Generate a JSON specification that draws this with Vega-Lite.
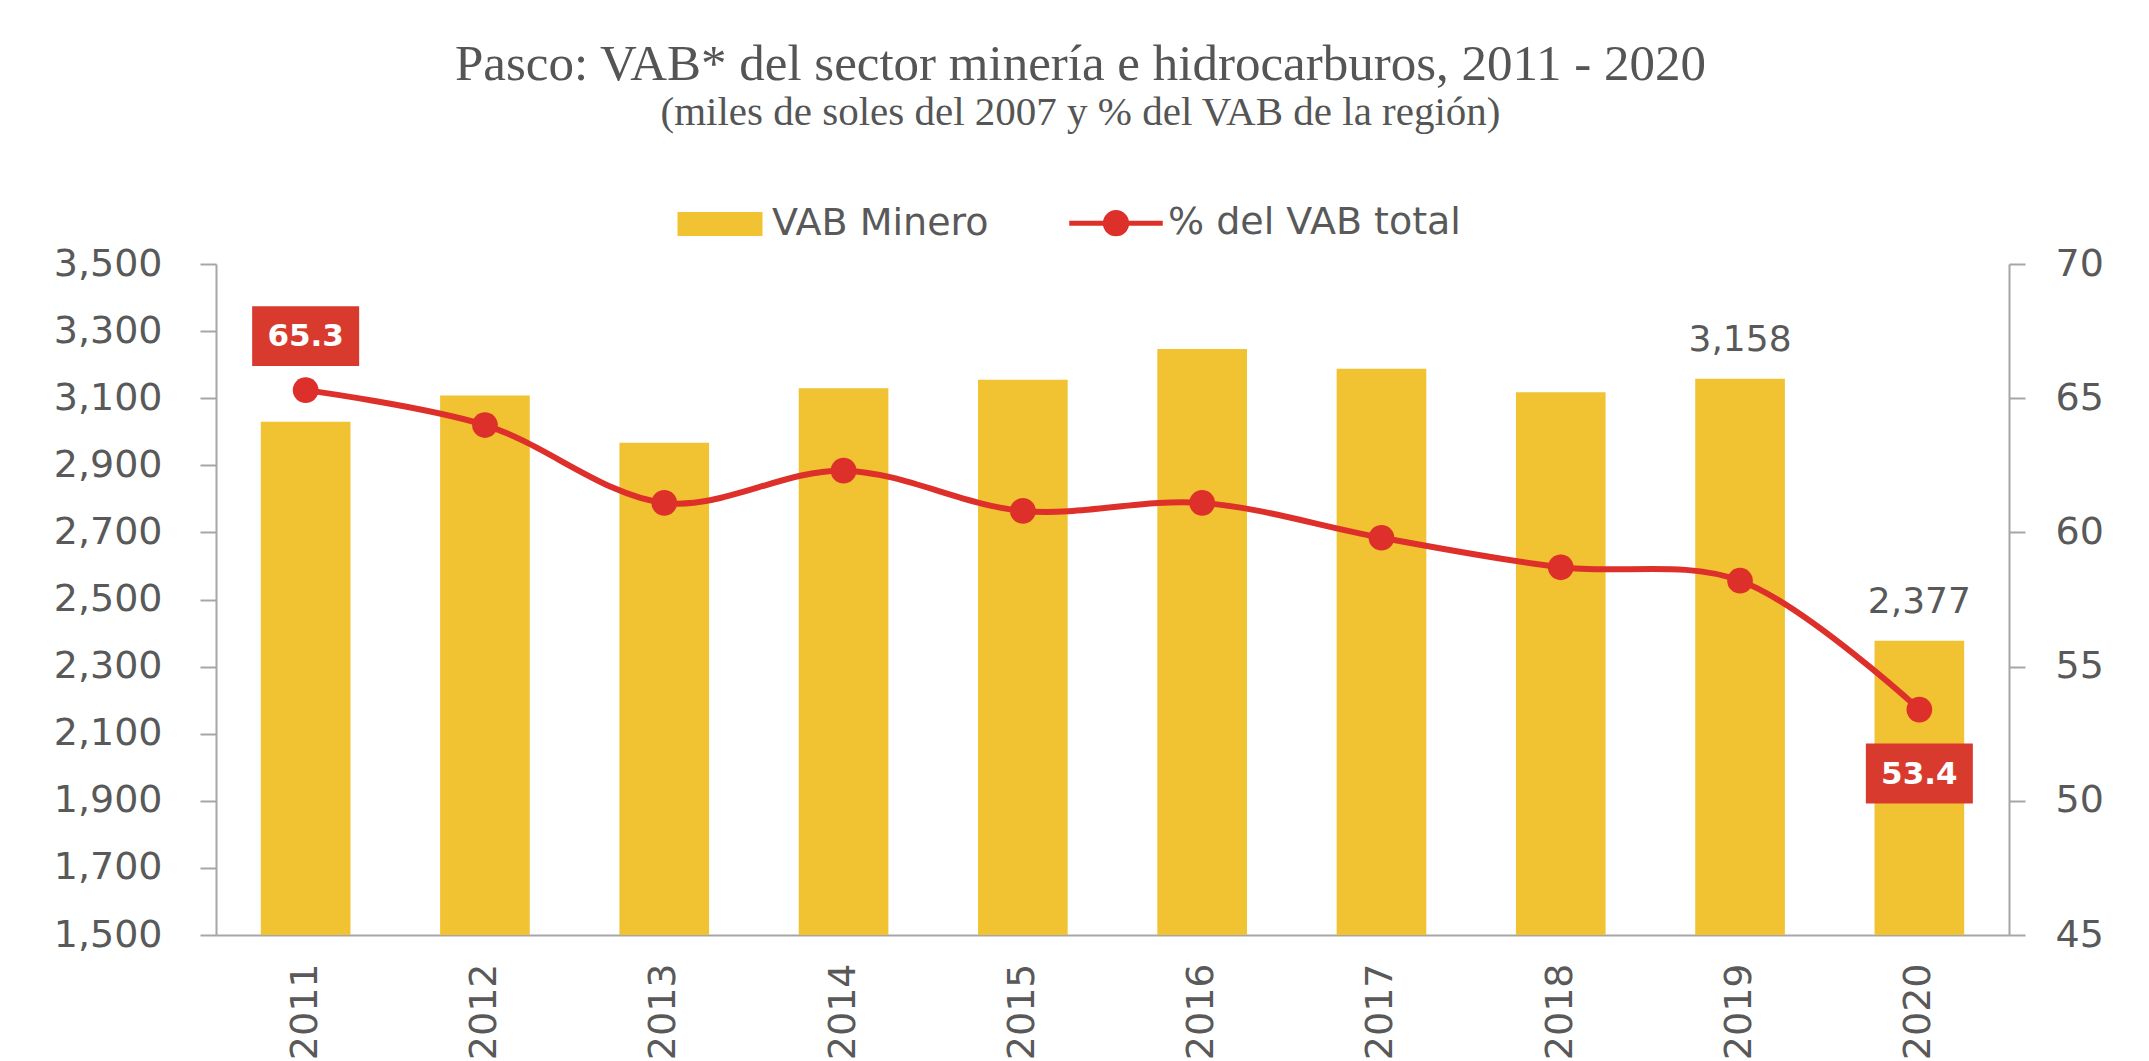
{
  "$schema": "https://vega.github.io/schema/vega-lite/v6.json",
  "width": 1793,
  "height": 671,
  "autosize": {"type": "none"},
  "padding": {"left": 216, "top": 264, "right": 140, "bottom": 126},
  "background": "white",
  "title": {
    "text": "Pasco: VAB* del sector minería e hidrocarburos, 2011 - 2020",
    "subtitle": "(miles de soles del 2007 y % del VAB de la región)",
    "font": "Liberation Serif",
    "fontSize": 51,
    "fontWeight": "normal",
    "color": "#555555",
    "subtitleFont": "Liberation Serif",
    "subtitleFontSize": 41,
    "subtitleColor": "#555555",
    "subtitlePadding": 2,
    "anchor": "middle",
    "offset": 70,
    "dx": -32
  },
  "data": {
    "values": [
      {"year": 2011, "vab": 3030, "pct": 65.3},
      {"year": 2012, "vab": 3108, "pct": 64.0},
      {"year": 2013, "vab": 2967, "pct": 61.1},
      {"year": 2014, "vab": 3130, "pct": 62.3},
      {"year": 2015, "vab": 3155, "pct": 60.8},
      {"year": 2016, "vab": 3247, "pct": 61.1},
      {"year": 2017, "vab": 3188, "pct": 59.8},
      {"year": 2018, "vab": 3118, "pct": 58.7},
      {"year": 2019, "vab": 3158, "pct": 58.2},
      {"year": 2020, "vab": 2377, "pct": 53.4}
    ]
  },
  "encoding": {
    "x": {
      "field": "year",
      "type": "ordinal",
      "scale": {"paddingInner": 0.5, "paddingOuter": 0.25},
      "axis": {
        "title": null,
        "labelAngle": -90,
        "labelFontSize": 38,
        "labelPadding": 28,
        "ticks": false
      }
    }
  },
  "layer": [
    {
      "encoding": {
        "y": {
          "field": "vab",
          "type": "quantitative",
          "scale": {"domain": [1500, 3500], "zero": false, "nice": false},
          "axis": {
            "title": null,
            "orient": "left",
            "values": [1500, 1700, 1900, 2100, 2300, 2500, 2700, 2900, 3100, 3300, 3500],
            "format": ",d",
            "labelFontSize": 38,
            "tickSize": 16,
            "labelPadding": 38
          }
        }
      },
      "layer": [
        {
          "mark": {"type": "bar"},
          "encoding": {
            "y2": {"datum": 1500},
            "color": {
              "datum": "VAB Minero",
              "type": "nominal",
              "scale": {"domain": ["VAB Minero", "% del VAB total"], "range": ["#F1C232", "#DE302A"]},
              "legend": {
                "title": null,
                "orient": "none",
                "legendX": 485,
                "legendY": -60,
                "direction": "horizontal",
                "labelFont": "DejaVu Sans",
                "labelFontSize": 38,
                "labelColor": "#595959",
                "labelLimit": 0,
                "symbolSize": 7225,
                "labelOffset": 33,
                "columnPadding": 70,
                "encode": {
                  "symbols": {
                    "update": {
                      "shape": {"signal": "datum.value === 'VAB Minero' ? 'M-1,-0.28H1V0.28H-1Z' : 'M-1.1,0H1.1M-0.25,0A0.25,0.25,0,1,1,0.25,0A0.25,0.25,0,1,1,-0.25,0Z'"},
                      "fill": {"signal": "datum.value === 'VAB Minero' ? '#F1C232' : '#DE302A'"},
                      "stroke": {"signal": "datum.value === 'VAB Minero' ? '#F1C232' : '#DE302A'"},
                      "strokeWidth": {"signal": "datum.value === 'VAB Minero' ? 0 : 5"},
                      "opacity": {"value": 1},
                      "fillOpacity": {"value": 1}
                    }
                  }
                }
              }
            }
          }
        },
        {
          "transform": [{"filter": "datum.year >= 2019"}],
          "mark": {"type": "text", "font": "DejaVu Sans", "fontSize": 36, "color": "#595959", "baseline": "alphabetic", "dy": -28},
          "encoding": {"text": {"field": "vab", "type": "quantitative", "format": ",d"}}
        }
      ]
    },
    {
      "encoding": {
        "y": {
          "field": "pct",
          "type": "quantitative",
          "scale": {"domain": [45, 70], "zero": false, "nice": false},
          "axis": {
            "title": null,
            "orient": "right",
            "values": [45, 50, 55, 60, 65, 70],
            "labelFontSize": 38,
            "tickSize": 16,
            "labelPadding": 30
          }
        }
      },
      "layer": [
        {
          "mark": {"type": "line", "interpolate": "catmull-rom", "strokeWidth": 6},
          "encoding": {"color": {"datum": "% del VAB total", "type": "nominal"}}
        },
        {
          "mark": {"type": "point", "filled": true, "size": 660, "opacity": 1, "color": "#DE302A"}
        },
        {
          "transform": [{"filter": "datum.year == 2011"}],
          "mark": {"type": "point", "shape": "M-1,-0.56H1V0.56H-1Z", "size": 11449, "filled": true, "opacity": 1, "color": "#D93A2E", "yOffset": -54}
        },
        {
          "transform": [{"filter": "datum.year == 2011"}],
          "mark": {"type": "text", "font": "DejaVu Sans", "fontSize": 31, "fontWeight": "bold", "color": "white", "baseline": "middle", "yOffset": -53},
          "encoding": {"text": {"field": "pct", "type": "quantitative", "format": ".1f"}}
        },
        {
          "transform": [{"filter": "datum.year == 2020"}],
          "mark": {"type": "point", "shape": "M-1,-0.56H1V0.56H-1Z", "size": 11449, "filled": true, "opacity": 1, "color": "#D93A2E", "yOffset": 64}
        },
        {
          "transform": [{"filter": "datum.year == 2020"}],
          "mark": {"type": "text", "font": "DejaVu Sans", "fontSize": 31, "fontWeight": "bold", "color": "white", "baseline": "middle", "yOffset": 65},
          "encoding": {"text": {"field": "pct", "type": "quantitative", "format": ".1f"}}
        }
      ]
    }
  ],
  "resolve": {"scale": {"y": "independent"}},
  "config": {
    "view": {"stroke": null},
    "axis": {
      "labelFont": "DejaVu Sans",
      "labelColor": "#595959",
      "domainColor": "#A6A6A6",
      "tickColor": "#A6A6A6",
      "domainWidth": 2,
      "tickWidth": 2,
      "grid": false
    }
  }
}
